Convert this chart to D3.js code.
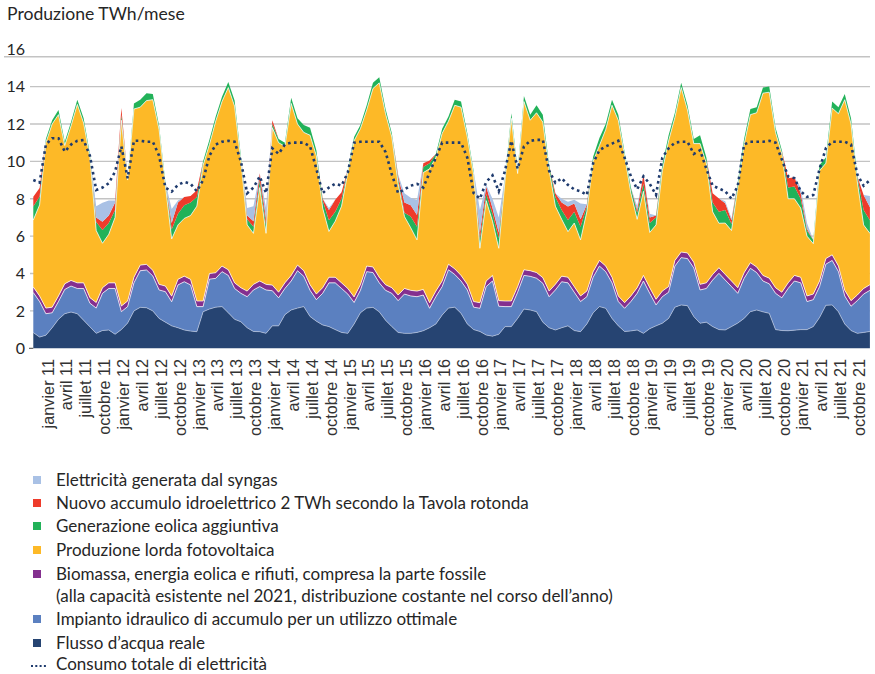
<!DOCTYPE html>
<html>
<head>
<meta charset="utf-8">
<script src="https://cdn.jsdelivr.net/npm/d3@7"></script>
<style>
  body { margin: 0; background: #fff; }
  svg { display: block; }
</style>
</head>
<body>
<script>
// months from nov 2010 to dec 2021
var months = [];
for (var yy = 2010; yy <= 2021; yy++) {
  for (var mm = 1; mm <= 12; mm++) {
    if (yy === 2010 && mm < 11) continue;
    months.push(yy + "-" + (mm < 10 ? "0" + mm : mm));
  }
}

var tickLabels = [
  "janvier 11","avril 11","juillet 11","octobre 11",
  "janvier 12","avril 12","juillet 12","octobre 12",
  "janvier 13","avril 13","juillet 13","octobre 13",
  "janvier 14","avril 14","juillet 14","octobre 14",
  "janvier 15","avril 15","juillet 15","octobre 15",
  "janvier 16","avril 16","juillet 16","octobre 16",
  "janvier 17","avril 17","juillet 17","octobre 17",
  "janvier 18","avril 18","juillet 18","octobre 18",
  "janvier 19","avril 19","juillet 19","octobre 19",
  "janvier 20","avril 20","juillet 20","octobre 20",
  "janvier 21","avril 21","juillet 21","octobre 21"
];

// TWh per month, one value per month (stack order bottom -> top)
var flusso = [
  .84,.6,.7,1.1,1.55,1.85,1.94,1.85,1.5,1.15,
  .8,.95,.98,.75,1.0,1.35,2.0,2.19,2.17,2.0,
  1.6,1.4,1.2,1.1,.98,.92,.89,1.96,2.1,2.2,
  2.23,1.9,1.55,1.42,1.1,.9,.89,.8,1.2,1.2,
  1.8,2.05,2.15,2.23,1.7,1.45,1.25,1.16,1.0,.85,
  .8,1.3,1.9,2.15,2.19,1.95,1.5,1.16,.85,.8,
  .8,.85,.94,1.1,1.3,1.78,2.15,2.2,1.87,1.3,
  1.0,.9,.71,.65,.75,1.16,1.16,1.6,2.1,2.05,
  1.96,1.4,1.1,.98,1.1,1.2,.95,.89,1.3,1.9,
  2.23,2.14,1.6,1.2,.9,.93,.98,.8,1.05,1.2,
  1.34,1.6,2.2,2.32,2.28,1.7,1.34,1.4,1.16,1.0,
  .98,1.16,1.35,1.6,1.96,2.05,1.95,1.87,1.0,.95,
  .94,.97,1.0,1.0,1.16,1.65,2.3,2.32,1.95,1.3,
  .95,.8,.85,.9
];
var accumulo = [
  2.14,1.9,1.15,.8,.95,1.3,1.39,1.35,1.7,1.26,
  1.35,1.99,2.22,2.45,.96,.88,1.5,1.96,2.02,1.87,
  1.52,1.63,1.29,2.29,2.58,2.47,1.34,.27,1.6,1.54,
  1.87,2.0,1.65,1.52,1.66,2.22,2.41,2.32,1.88,1.5,
  1.4,1.55,2.0,1.62,1.4,1.15,1.69,2.34,2.5,2.35,
  2.1,1.15,1.2,1.95,1.86,1.55,1.6,1.78,1.7,2.1,
  2.0,1.91,1.91,1.04,1.46,1.52,2.05,1.75,1.73,1.82,
  1.2,1.24,2.59,2.95,1.5,1.07,1.07,1.4,1.8,1.8,
  1.79,2.08,1.66,2.14,2.46,2.3,2.05,1.61,1.46,1.9,
  2.17,1.96,1.9,1.3,1.24,1.57,1.96,2.8,1.89,1.12,
  1.42,1.4,2.2,2.53,2.52,2.6,1.78,1.8,2.49,3.01,
  2.67,2.14,1.59,2.14,2.32,2.0,1.65,1.58,1.94,1.75,
  2.26,2.63,2.5,1.5,1.44,1.65,2.2,2.38,2.15,1.5,
  1.3,1.75,2.05,2.2
];
var biomassa = [
  .3,.3,.3,.3,.3,.3,.3,.3,.3,.3,
  .3,.3,.3,.3,.3,.3,.3,.3,.3,.3,
  .3,.3,.3,.3,.3,.3,.3,.3,.3,.3,
  .3,.3,.3,.3,.3,.3,.3,.3,.3,.3,
  .3,.3,.3,.3,.3,.3,.3,.3,.3,.3,
  .3,.3,.3,.3,.3,.3,.3,.3,.3,.3,
  .3,.3,.3,.3,.3,.3,.3,.3,.3,.3,
  .3,.3,.3,.3,.3,.3,.3,.3,.3,.3,
  .3,.3,.3,.3,.3,.3,.3,.3,.3,.3,
  .3,.3,.3,.3,.3,.3,.3,.3,.3,.3,
  .3,.3,.3,.3,.3,.3,.3,.3,.3,.3,
  .3,.3,.3,.3,.3,.3,.3,.3,.3,.3,
  .3,.3,.3,.3,.3,.3,.3,.3,.3,.3,
  .3,.3,.3,.3
];
var fotovoltaica = [
  3.58,4.87,8.85,9.8,9.7,7.4,8.27,9.55,8.55,7.49,
  3.85,2.38,2.6,3.5,9.94,6.47,9.0,8.45,8.76,9.13,
  8.28,5.37,3.06,2.91,3.09,3.41,5.07,7.27,6.9,8.11,
  8.8,9.75,9.45,6.81,3.54,2.73,5.0,2.73,8.42,8.0,
  7.3,9.2,7.55,7.4,8.0,7.4,4.26,2.45,3.0,4.1,
  6.2,8.35,8.35,8.35,9.55,10.4,9.15,8.06,5.95,3.85,
  3.35,2.74,6.25,7.16,7.14,7.9,7.65,8.75,9.0,7.88,
  6.8,2.91,4.3,2.9,2.8,6.47,9.77,6.05,9.0,8.05,
  8.55,8.32,6.49,4.18,3.04,2.44,3.4,3.0,4.24,5.9,
  6.15,7.3,9.2,9.4,7.86,5.5,3.66,4.5,2.96,3.98,
  6.44,7.8,7.65,8.8,7.65,6.35,7.53,6.4,3.35,2.38,
  2.75,2.7,5.36,6.86,7.92,8.25,9.75,9.95,8.31,7.4,
  4.5,4.1,3.7,3.2,2.7,5.9,5.1,7.85,8.15,10.2,
  9.45,6.05,3.4,2.75
];
var eolica = [
  .72,.45,.2,.2,.25,.2,.2,.25,.25,.2,
  .45,.71,.6,.4,.3,.1,.3,.4,.4,.3,
  .2,.2,.5,.6,.7,.7,.5,.2,.25,.25,
  .25,.3,.3,.25,.3,.35,.4,.45,.2,.2,
  .2,.3,.3,.4,.4,.3,.4,.6,.5,.4,
  .15,.2,.2,.25,.3,.3,.25,.2,.3,.2,
  .6,.7,.3,.3,.2,.25,.25,.3,.3,.2,
  .2,.5,.35,.4,.55,.2,.27,.2,.3,.3,
  .4,.4,.25,.5,.5,.62,.6,.7,.3,.25,
  .4,.3,.3,.3,.2,.3,.35,.4,.5,.4,
  .3,.3,.25,.25,.25,.25,.45,.3,.5,.62,
  .7,.35,.3,.3,.3,.3,.3,.3,.25,.2,
  .6,.65,.5,.3,.2,.3,.3,.35,.35,.3,
  .3,.3,.8,.7
];
var nuovoAccumulo = [
  .53,.45,0,0,0,0,0,0,0,0,
  .25,.44,.4,.4,.35,0,0,0,0,0,
  0,0,.35,.6,.45,.35,.35,0,0,0,
  0,0,0,0,.2,.3,.36,.3,.2,0,
  0,0,0,0,0,0,.1,.55,.65,.35,
  0,0,0,0,0,0,0,0,.15,.55,
  .6,.63,.2,.15,0,0,0,0,0,0,
  0,.35,.4,.3,.3,0,0,0,0,0,
  0,0,0,.2,.4,.72,.45,.4,.1,0,
  0,0,0,0,0,0,.15,.5,.3,.1,
  0,0,0,0,0,0,0,0,.5,.7,
  .36,.2,0,0,0,0,0,0,0,0,
  .5,.5,.3,.1,0,0,0,0,0,0,
  0,0,.8,.7
];
var syngas = [
  0,0,0,0,0,0,0,0,0,0,
  .6,1.02,.8,.1,0,0,0,0,0,0,
  0,0,.75,.1,0,0,0,0,0,0,
  0,0,0,0,.4,.8,0,.6,0,0,
  0,0,0,0,0,0,0,.1,0,0,
  0,0,0,0,0,0,0,0,.05,.5,
  .4,.8,0,0,0,0,0,0,0,0,
  0,1.2,.1,.5,.8,0,0,0,0,0,
  0,0,0,0,.2,.26,.2,.85,0,0,
  0,0,0,0,0,0,.2,0,.2,0,
  0,0,0,0,0,0,0,0,0,0,
  .1,.1,0,0,0,0,0,0,0,0,
  0,0,.3,.3,0,0,0,0,0,0,
  0,0,0,.6
];
var consumo = [
  9.0,8.86,10.9,11.24,11.24,10.52,10.9,11.1,11.14,10.3,
  8.47,8.6,8.83,9.45,10.8,9.1,11.1,11.1,11.05,11.05,
  10.3,8.6,8.38,8.74,8.9,8.8,8.4,9.0,10.3,10.9,
  11.05,11.1,11.05,10.0,8.3,8.6,9.2,8.3,10.7,10.4,
  10.9,11.0,11.0,11.0,10.8,9.6,8.3,8.6,8.8,8.7,
  9.4,11.0,11.05,11.05,11.05,11.05,10.5,9.3,8.3,8.5,
  8.7,8.8,8.6,9.4,10.2,11.0,11.0,11.0,11.0,10.2,
  8.3,8.0,8.9,9.25,8.4,9.5,11.1,9.6,10.8,11.1,
  11.15,11.15,9.5,8.85,9.1,8.74,8.5,8.4,8.2,9.9,
  10.6,10.8,10.95,11.1,10.2,9.2,8.5,9.2,8.8,8.2,
  10.2,10.7,11.0,11.05,11.05,10.4,10.6,9.6,8.7,8.55,
  8.4,8.0,8.7,10.9,11.05,11.05,11.05,11.1,11.0,10.1,
  9.2,9.1,8.4,8.1,8.2,9.6,10.7,11.05,11.05,11.05,
  10.9,9.3,8.7,9.0
];

var seriesNames = [
  "Flusso d\u2019acqua reale",
  "Impianto idraulico di accumulo per un utilizzo ottimale",
  "Biomassa, energia eolica e rifiuti, compresa la parte fossile",
  "Produzione lorda fotovoltaica",
  "Generazione eolica aggiuntiva",
  "Nuovo accumulo idroelettrico 2 TWh secondo la Tavola rotonda",
  "Elettricit\u00e0 generata dal syngas"
];
var seriesColors = ["#264472", "#5b80c0", "#84308f", "#fdb927", "#22b259", "#ee3b2b", "#a9c1e5"];
var consumoName = "Consumo totale di elettricit\u00e0";

var seriesValues = [flusso, accumulo, biomassa, fotovoltaica, eolica, nuovoAccumulo, syngas];
var table = months.map(function(m, i) {
  var row = {month: m};
  seriesValues.forEach(function(arr, k) { row["s" + k] = arr[i]; });
  return row;
});
var keys = seriesValues.map(function(a, k) { return "s" + k; });

var width = 875, height = 674;
var svg = d3.select("body").append("svg")
  .attr("width", width)
  .attr("height", height);

var x = d3.scalePoint().domain(months).range([33.3, 869.9]);
var y = d3.scaleLinear().domain([0, 16]).range([348.3, 49.2]);

// title
svg.append("text")
  .attr("x", 7).attr("y", 20)
  .style("font-family", "Lato")
  .style("font-size", "17.6px")
  .style("fill", "#262626")
  .text("Produzione TWh/mese");

// grid
var yTicks = [0, 2, 4, 6, 8, 10, 12, 14, 16];
svg.append("g").selectAll("line")
  .data(yTicks.filter(function(t) { return t > 0 && t < 16; }))
  .enter().append("line")
  .attr("x1", 30).attr("x2", 870)
  .attr("y1", function(d) { return y(d); })
  .attr("y2", function(d) { return y(d); })
  .style("stroke", "#c3c3c3")
  .style("stroke-width", 1.4);
// top frame line (sits a bit under the 16 label)
svg.append("line")
  .attr("x1", 4).attr("x2", 870)
  .attr("y1", y(15.6)).attr("y2", y(15.6))
  .style("stroke", "#c3c3c3")
  .style("stroke-width", 1.4);

svg.append("g").selectAll("text")
  .data(yTicks)
  .enter().append("text")
  .attr("x", 25)
  .attr("y", function(d) { return y(d); })
  .attr("dy", "0.36em")
  .attr("text-anchor", "end")
  .style("font-family", "Lato")
  .style("font-size", "16px")
  .style("fill", "#262626")
  .text(function(d) { return d; });

// stacked areas
var stacked = d3.stack().keys(keys)(table);
var area = d3.area()
  .x(function(d) { return x(d.data.month); })
  .y0(function(d) { return y(d[0]); })
  .y1(function(d) { return y(d[1]); });
var topLine = d3.line()
  .x(function(d) { return x(d.data.month); })
  .y(function(d) { return y(d[1]); });

svg.append("g").selectAll("path")
  .data(stacked)
  .enter().append("path")
  .attr("d", area)
  .style("fill", function(d, i) { return seriesColors[i]; });

// thin light edges between the layers
svg.append("g").selectAll("path")
  .data(stacked.slice(0, 4))
  .enter().append("path")
  .attr("d", topLine)
  .style("fill", "none")
  .style("stroke", function(d, i) { return i === 0 ? "#b7c3dc" : "#ffffff"; })
  .style("stroke-width", 0.8)
  .style("opacity", 0.9);

// consumption
var consLine = d3.line()
  .x(function(d, i) { return x(months[i]); })
  .y(function(d) { return y(d); });
svg.append("path")
  .attr("d", consLine(consumo))
  .style("fill", "none")
  .style("stroke", "#1f3b6e")
  .style("stroke-width", 2.6)
  .style("stroke-dasharray", "2.6,3.4");

// axis tick at 0
svg.append("line")
  .attr("x1", 29).attr("x2", 33.3)
  .attr("y1", y(0)).attr("y2", y(0))
  .style("stroke", "#444").style("stroke-width", 1);

// x labels
var frMonths = {janvier: "01", avril: "04", juillet: "07", octobre: "10"};
svg.append("g").selectAll("text")
  .data(tickLabels)
  .enter().append("text")
  .attr("transform", function(d) {
    var p = d.split(" ");
    var m = "20" + p[1] + "-" + frMonths[p[0]];
    return "translate(" + (x(m) + 2) + ",359)rotate(-90)";
  })
  .attr("dy", "0.35em")
  .attr("text-anchor", "end")
  .style("font-family", "Liberation Sans")
  .style("font-size", "16.3px")
  .style("fill", "#333")
  .text(function(d) { return d; });

// legend
var legendItems = [
  {name: seriesNames[6], color: seriesColors[6], y: 480},
  {name: seriesNames[5], color: seriesColors[5], y: 503},
  {name: seriesNames[4], color: seriesColors[4], y: 526},
  {name: seriesNames[3], color: seriesColors[3], y: 550},
  {name: seriesNames[2], color: seriesColors[2], y: 574,
   extra: "(alla capacit\u00e0 esistente nel 2021, distribuzione costante nel corso dell\u2019anno)"},
  {name: seriesNames[1], color: seriesColors[1], y: 619},
  {name: seriesNames[0], color: seriesColors[0], y: 643}
];
var lg = svg.append("g").style("font-family", "Lato").style("font-size", "17px").style("fill", "#262626");
legendItems.forEach(function(d) {
  lg.append("rect")
    .attr("x", 33).attr("y", d.y - 4)
    .attr("width", 8).attr("height", 8)
    .style("fill", d.color);
  lg.append("text").attr("x", 56).attr("y", d.y).attr("dy", "0.35em").text(d.name);
  if (d.extra) {
    lg.append("text").attr("x", 56).attr("y", d.y + 22).attr("dy", "0.35em").text(d.extra);
  }
});
lg.append("line")
  .attr("x1", 31).attr("x2", 47)
  .attr("y1", 666).attr("y2", 666)
  .style("stroke", "#1f3b6e")
  .style("stroke-width", 2.2)
  .style("stroke-dasharray", "2,2.3");
lg.append("text").attr("x", 56).attr("y", 664).attr("dy", "0.35em").text(consumoName);
</script>
</body>
</html>
